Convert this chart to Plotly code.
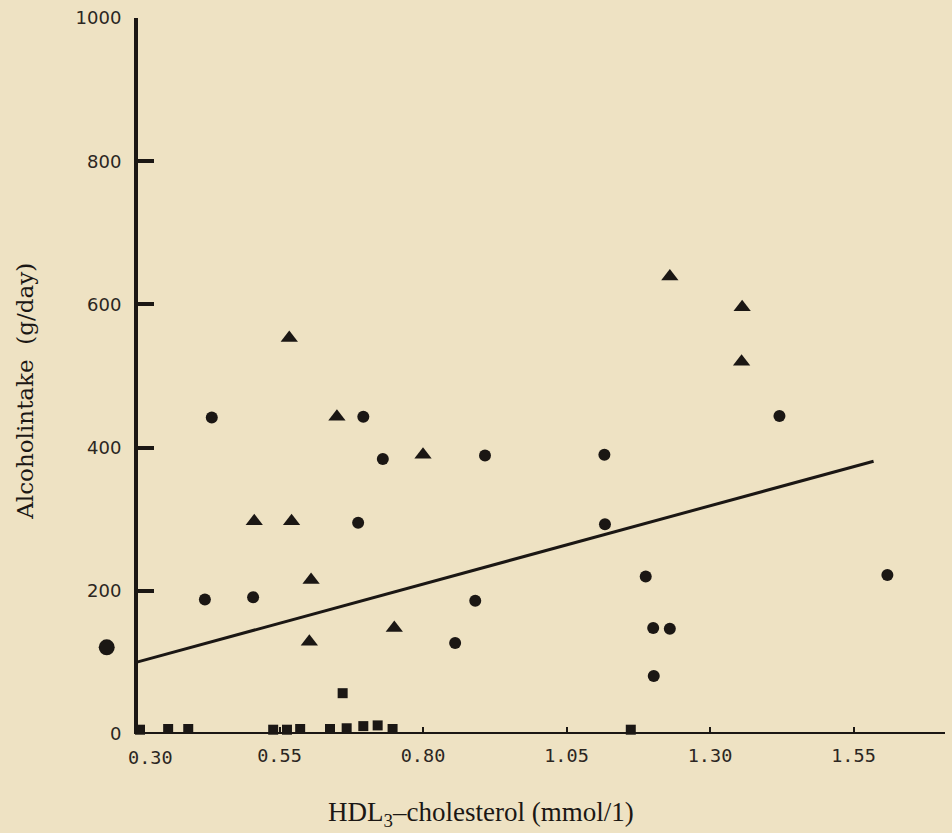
import plotly.graph_objects as go

# ---- data ----
circle_x = [0.432, 0.696, 0.730, 0.908, 0.687, 0.420, 0.504, 0.891, 0.856,
            1.421, 1.116, 1.117, 1.188, 1.201, 1.230, 1.202, 1.609]
circle_y = [442, 443, 384, 389, 295, 188, 191, 186, 127,
            444, 390, 293, 220, 148, 147, 81, 222]

big_x = [0.249]
big_y = [121]

triangle_x = [0.567, 0.650, 0.800, 0.506, 0.571, 0.605, 0.602, 0.750,
              1.230, 1.356, 1.355]
triangle_y = [553, 443, 390, 297, 297, 215, 129, 148,
              639, 596, 520]

square_x = [0.660, 0.307, 0.356, 0.391, 0.539, 0.563, 0.586, 0.638, 0.667,
            0.696, 0.721, 0.747, 1.162]
square_y = [57, 6, 7, 7, 6, 6, 7, 7, 8, 11, 12, 7, 6]

reg_intercept_at_030 = 100
reg_slope = 218.7
reg_x = [0.30, 1.585]
reg_y = [reg_intercept_at_030 + reg_slope * (x - 0.30) for x in reg_x]

x_ticks = [0.30, 0.55, 0.80, 1.05, 1.30, 1.55]
x_ticktext = ["0.30", "0.55", "0.80", "1.05", "1.30", "1.55"]
y_ticks = [0, 200, 400, 600, 800, 1000]

X_ORIGIN = 0.30          # where the vertical axis stands
X_MIN, X_MAX = 0.2303, 1.7094

INK = "#1b1714"
LABEL = "#2b2622"
PAPER = "#eee2c3"
XFONT = dict(family="DejaVu Sans Mono", size=18.5, color=LABEL)

fig = go.Figure()
fig.add_trace(go.Scatter(x=reg_x, y=reg_y, mode="lines",
                         line=dict(color=INK, width=3), cliponaxis=False,
                         hoverinfo="skip", showlegend=False))
fig.add_trace(go.Scatter(x=circle_x, y=circle_y, mode="markers",
                         marker=dict(symbol="circle", size=12, color=INK),
                         cliponaxis=False, showlegend=False))
fig.add_trace(go.Scatter(x=big_x, y=big_y, mode="markers",
                         marker=dict(symbol="circle", size=16, color=INK),
                         cliponaxis=False, showlegend=False))
fig.add_trace(go.Scatter(x=triangle_x, y=triangle_y, mode="markers",
                         marker=dict(symbol="triangle-up", size=15, color=INK),
                         cliponaxis=False, showlegend=False))
fig.add_trace(go.Scatter(x=square_x, y=square_y, mode="markers",
                         marker=dict(symbol="square", size=10, color=INK),
                         cliponaxis=False, showlegend=False))

L, R = 96, 7
plot_w = 952 - L - R
yaxis_pos = (X_ORIGIN - X_MIN) / (X_MAX - X_MIN)

# first x label sits a little to the right of the corner, as in the original
axis_ticktext = [""] + x_ticktext[1:]

fig.update_layout(
    width=952, height=833,
    margin=dict(l=L, r=R, t=14, b=99),
    paper_bgcolor=PAPER, plot_bgcolor=PAPER,
    showlegend=False,
    xaxis=dict(range=[X_MIN, X_MAX], tickvals=x_ticks, ticktext=axis_ticktext,
               showgrid=False, zeroline=False, showline=False,
               ticks="inside", ticklen=7, tickwidth=2, tickcolor=INK,
               ticklabelstandoff=8, tickfont=XFONT),
    yaxis=dict(range=[0, 1000], tickvals=y_ticks,
               anchor="free", position=yaxis_pos,
               showgrid=False, zeroline=False,
               showline=True, linecolor=INK, linewidth=4,
               ticks="inside", ticklen=16, tickwidth=4, tickcolor=INK,
               ticklabelstandoff=9,
               tickfont=dict(family="DejaVu Sans", size=18, color=LABEL)),
    shapes=[
        dict(type="line", xref="x", yref="y", x0=X_ORIGIN, x1=X_MAX, y0=0, y1=0,
             line=dict(color=INK, width=4), layer="above"),
    ],
    annotations=[
        dict(text=x_ticktext[0], xref="x", yref="paper", x=x_ticks[0], y=0,
             xshift=14, yshift=-23, xanchor="center", yanchor="middle",
             showarrow=False, font=XFONT),
        dict(text="Alcoholintake  (g/day)", xref="paper", yref="paper",
             x=0, y=0.478, xshift=25 - L, xanchor="center", yanchor="middle",
             textangle=-90, showarrow=False,
             font=dict(family="DejaVu Serif", size=23, color=INK)),
        dict(text="HDL<sub>3</sub>–cholesterol (mmol/1)", xref="paper", yref="paper",
             x=(481 - L) / plot_w, y=0, yshift=-80, xanchor="center", yanchor="middle",
             showarrow=False,
             font=dict(family="Liberation Serif", size=27, color=INK)),
    ],
)

fig.write_html(
    "out.html",
    config={"displayModeBar": False},
    post_script="document.body.style.margin='0';document.body.style.overflow='hidden';"
                "document.body.style.background='%s';" % PAPER,
)
